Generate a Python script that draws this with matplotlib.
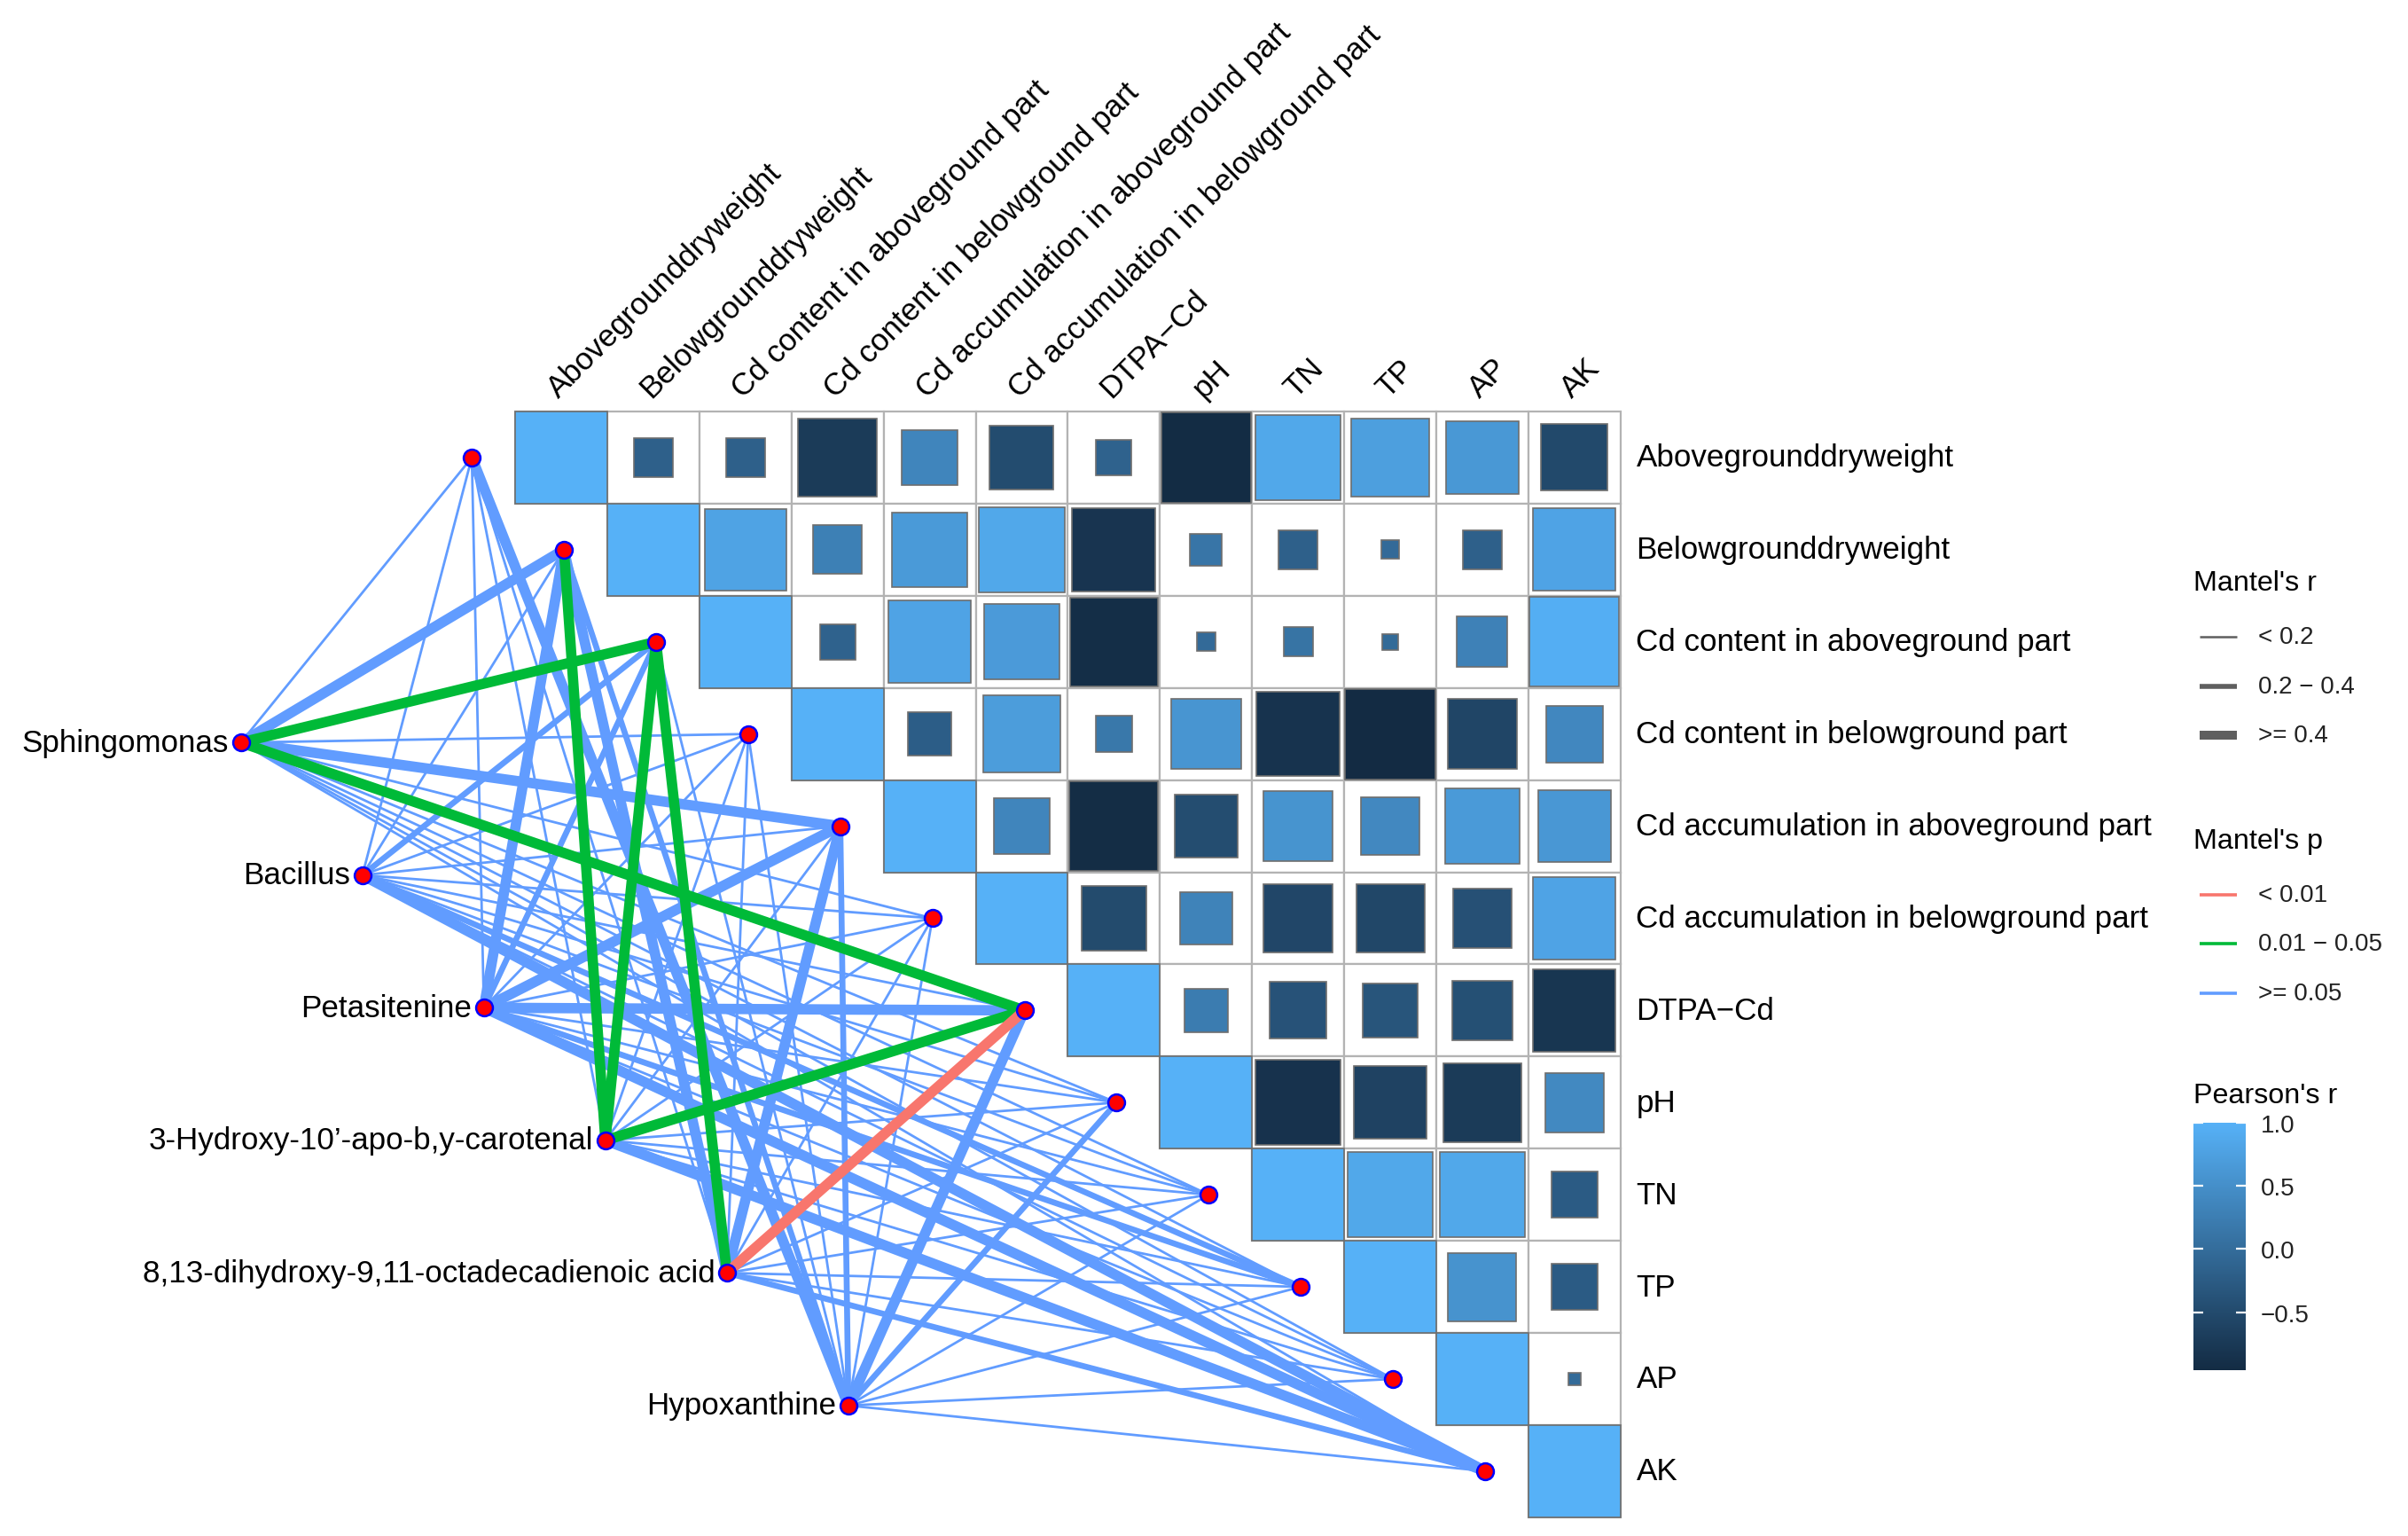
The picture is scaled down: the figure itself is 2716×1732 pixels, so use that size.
import numpy as np
import matplotlib
matplotlib.use('Agg')
import matplotlib.pyplot as plt
from matplotlib.patches import Rectangle
from matplotlib.colors import LinearSegmentedColormap, Normalize
from matplotlib.cm import ScalarMappable

plt.rcParams['font.family'] = ['Liberation Sans', 'DejaVu Sans']

env_vars = ['Abovegrounddryweight', 'Belowgrounddryweight',
            'Cd content in aboveground part', 'Cd content in belowground part',
            'Cd accumulation in aboveground part', 'Cd accumulation in belowground part',
            'DTPA\u2212Cd', 'pH', 'TN', 'TP', 'AP', 'AK']

species = ['Sphingomonas', 'Bacillus', 'Petasitenine',
           '3-Hydroxy-10\u2019-apo-b,y-carotenal',
           '8,13-dihydroxy-9,11-octadecadienoic acid', 'Hypoxanthine']

# Pearson's r, upper triangle, each row starts at the diagonal
pearson_upper = [
    [1.00, -0.18, -0.18, -0.73, 0.36, -0.48, -0.15, -0.95, 0.86, 0.73, 0.63, -0.52],
    [1.00, 0.79, 0.28, 0.66, 0.86, -0.82, 0.12, -0.18, -0.04, -0.18, 0.80],
    [1.00, -0.15, 0.80, 0.67, -0.92, -0.04, 0.10, -0.03, 0.30, 0.95],
    [1.00, -0.22, 0.70, 0.16, 0.58, -0.83, -0.96, -0.57, 0.38],
    [1.00, 0.36, -0.93, -0.47, 0.57, 0.40, 0.66, 0.62],
    [1.00, -0.50, 0.32, -0.56, -0.55, -0.41, 0.80],
    [1.00, 0.22, -0.38, -0.35, -0.42, -0.80],
    [1.00, -0.85, -0.62, -0.73, 0.41],
    [1.00, 0.86, 0.86, -0.25],
    [1.00, 0.55, -0.25],
    [1.00, -0.02],
    [1.00],
]

# Mantel's r / p, one row per species, one column per env variable
mantel_r = [
    [0.11, 0.46, 0.48, 0.15, 0.43, 0.12, 0.47, 0.09, 0.10, 0.13, 0.11, 0.14],
    [0.08, 0.12, 0.27, 0.13, 0.15, 0.10, 0.14, 0.09, 0.16, 0.24, 0.13, 0.45],
    [0.10, 0.44, 0.28, 0.12, 0.42, 0.11, 0.41, 0.13, 0.12, 0.23, 0.10, 0.43],
    [0.09, 0.47, 0.49, 0.11, 0.14, 0.12, 0.45, 0.10, 0.13, 0.11, 0.12, 0.44],
    [0.13, 0.43, 0.46, 0.10, 0.44, 0.12, 0.52, 0.11, 0.10, 0.14, 0.09, 0.33],
    [0.42, 0.31, 0.14, 0.09, 0.29, 0.12, 0.43, 0.22, 0.11, 0.10, 0.13, 0.15],
]
mantel_p = [
    [0.42, 0.07, 0.03, 0.35, 0.09, 0.52, 0.02, 0.61, 0.55, 0.38, 0.47, 0.33],
    [0.58, 0.44, 0.16, 0.41, 0.37, 0.62, 0.36, 0.66, 0.29, 0.14, 0.40, 0.08],
    [0.49, 0.07, 0.15, 0.43, 0.08, 0.51, 0.09, 0.39, 0.45, 0.18, 0.55, 0.06],
    [0.57, 0.03, 0.02, 0.47, 0.35, 0.43, 0.04, 0.52, 0.38, 0.46, 0.41, 0.07],
    [0.37, 0.08, 0.03, 0.51, 0.07, 0.44, 0.008, 0.48, 0.53, 0.34, 0.60, 0.12],
    [0.09, 0.13, 0.39, 0.64, 0.15, 0.47, 0.06, 0.21, 0.50, 0.56, 0.36, 0.31],
]

r_widths = [1.0, 2.4, 4.2]
p_colors = ['#F8766D', '#00BA38', '#619CFF']
cmap = LinearSegmentedColormap.from_list('pr', ['#132B43', '#56B1F7'])
vmin = min(min(row) for row in pearson_upper)
norm = Normalize(vmin=vmin, vmax=1.0)

W, H = 2716, 1733
CELL, X0, Y0 = 103.9, 581, 465
FS = 12.6

fig = plt.figure(figsize=(W / 200, H / 200), dpi=200)
ax = fig.add_axes([0, 0, 1, 1])
ax.set_xlim(-X0 / CELL, (W - X0) / CELL)
ax.set_ylim((H - Y0) / CELL, -Y0 / CELL)
ax.axis('off')

n = len(env_vars)
# heatmap
for i, row in enumerate(pearson_upper):
    for k, r in enumerate(row):
        j = i + k
        ax.add_patch(Rectangle((j, i), 1, 1, fc='white', ec='#b3b3b3', lw=0.8, zorder=1))
        s = np.sqrt(abs(r))
        ax.add_patch(Rectangle((j + 0.5 - s / 2, i + 0.5 - s / 2), s, s,
                               fc=cmap(norm(r)), ec='#6e6e6e', lw=0.6, zorder=2))
    ax.text(n + 0.17, i + 0.5, env_vars[i], ha='left', va='center', fontsize=FS)
    ax.text(i + 0.52, -0.1, env_vars[i], ha='left', va='bottom', fontsize=FS,
            rotation=45, rotation_mode='anchor')

# node positions
env_x = [i - 0.47 for i in range(n)]
env_y = [i + 0.5 for i in range(n)]
sp_x = [-2.977 + 1.319 * k for k in range(len(species))]
sp_y = [3.593 + 1.439 * k for k in range(len(species))]

# links
links = []
for a in range(len(species)):
    for b in range(n):
        r, p = mantel_r[a][b], mantel_p[a][b]
        wi = 0 if r < 0.2 else (1 if r < 0.4 else 2)
        ci = 0 if p < 0.01 else (1 if p < 0.05 else 2)
        links.append((-ci, wi, a, b))
links.sort()
for negci, wi, a, b in links:
    ax.plot([sp_x[a], env_x[b]], [sp_y[a], env_y[b]], color=p_colors[-negci],
            lw=r_widths[wi], solid_capstyle='butt', zorder=3)

ax.plot(env_x, env_y, 'o', ms=6.8, mfc='red', mec='blue', mew=0.9, zorder=5, ls='none')
ax.plot(sp_x, sp_y, 'o', ms=6.8, mfc='red', mec='blue', mew=0.9, zorder=5, ls='none')
for k, name in enumerate(species):
    ax.text(sp_x[k] - 0.13, sp_y[k], name, ha='right', va='center', fontsize=FS)

# legends (pixel coordinates)
lg = fig.add_axes([0, 0, 1, 1], facecolor='none')
lg.set_xlim(0, W)
lg.set_ylim(H, 0)
lg.axis('off')

LX = 2474
lg.text(LX, 658, "Mantel's r", fontsize=11.6, va='center')
for yy, lw, lab in zip([719, 775, 830], [0.9, 2.0, 3.6], ['< 0.2', '0.2 \u2212 0.4', '>= 0.4']):
    lg.plot([LX + 7, LX + 49], [yy, yy], color='#5f5f5f', lw=lw, solid_capstyle='butt')
    lg.text(LX + 73, yy, lab, fontsize=10, va='center', color='#222222')

lg.text(LX, 949, "Mantel's p", fontsize=11.6, va='center')
for yy, c, lab in zip([1010, 1065, 1121], p_colors, ['< 0.01', '0.01 \u2212 0.05', '>= 0.05']):
    lg.plot([LX + 7, LX + 49], [yy, yy], color=c, lw=1.3, solid_capstyle='butt')
    lg.text(LX + 73, yy, lab, fontsize=10, va='center', color='#222222')

lg.text(LX, 1236, "Pearson's r", fontsize=11.6, va='center')
cax = fig.add_axes([LX / W, 1 - 1546 / H, 59 / W, (1546 - 1267) / H])
cb = fig.colorbar(ScalarMappable(norm=norm, cmap=cmap), cax=cax)
cb.outline.set_visible(False)
cb.set_ticks([-0.5, 0.0, 0.5, 1.0])
cb.set_ticklabels(['\u22120.5', '0.0', '0.5', '1.0'])
cax.tick_params(axis='y', direction='in', color='white', length=4, width=0.8,
                left=True, right=True, labelsize=10, labelcolor='#222222', pad=6)

fig.savefig('out.png', dpi=200)
